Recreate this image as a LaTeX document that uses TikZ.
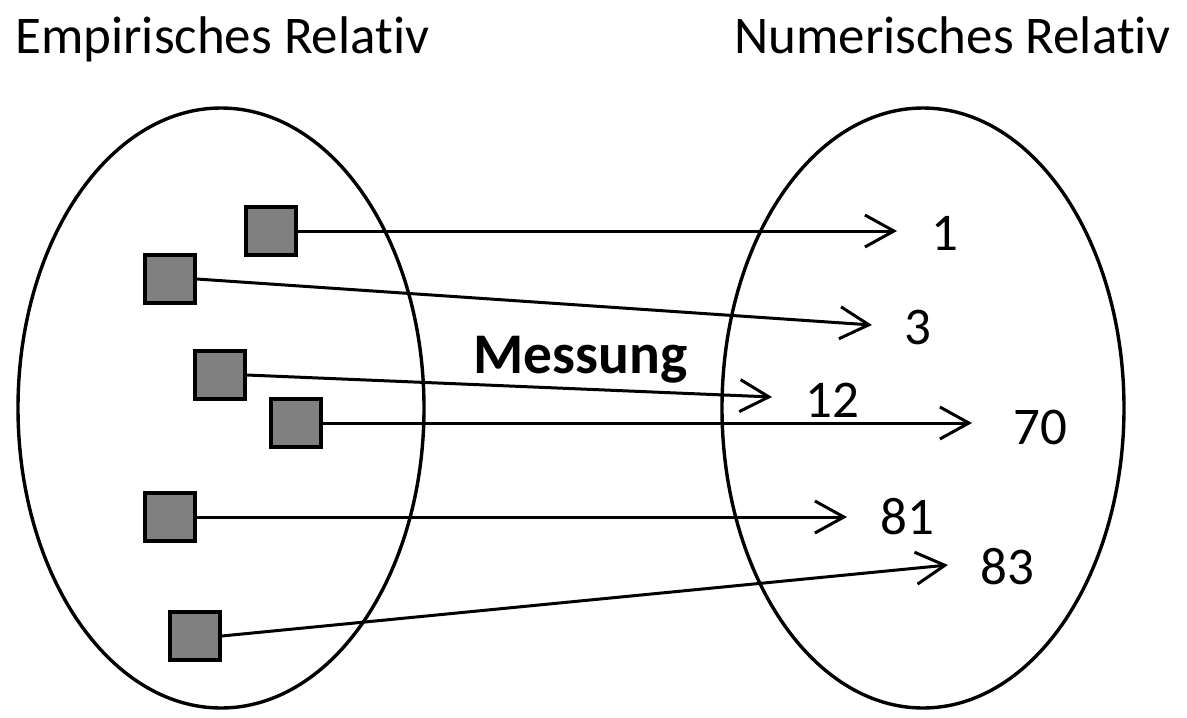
\documentclass[tikz,border=0pt]{standalone}
\usepackage{fontspec}
\setmainfont{Carlito}[Ligatures=NoCommon]
\usetikzlibrary{arrows.meta}
\begin{document}
\begin{tikzpicture}[x=1pt,y=-1pt,
  setline/.style={line width=3.4pt},
  elem/.style={draw=black,line width=3.4pt,fill=black!50,minimum width=50pt,minimum height=48pt,inner sep=0pt},
  maparrow/.style={line width=3pt,-{Straight Barb[length=29pt,width=32pt,line width=3pt]}},
  numlabel/.style={font=\fontsize{53}{60}\selectfont,inner sep=0pt,anchor=center},
  title/.style={font=\fontsize{53}{60}\selectfont,inner sep=0pt,anchor=base west}]
\useasboundingbox (0,0) rectangle (1187,718);
% sets
\draw[setline] (221,408) ellipse [x radius=203, y radius=300];
\draw[setline] (923,408) ellipse [x radius=201, y radius=300];
% titles
\node[title] (tl) at (15,53) {Empirisches Relativ};
\node[title] (tr) at (734,53) {Numerisches Relativ};
\node[font=\bfseries\fontsize{57.5}{66}\selectfont,inner sep=0pt,anchor=base west] (mess) at (473,373) {Messung};
% elements
\node[elem] (s1) at (271,231) {};
\node[elem] (s2) at (170,279) {};
\node[elem] (s3) at (220,375) {};
\node[elem] (s4) at (296,423) {};
\node[elem] (s5) at (170,517) {};
\node[elem] (s6) at (195,636) {};
% numbers
\node[numlabel] (n1) at (945,233) {1};
\node[numlabel] (n3) at (918,327) {3};
\node[numlabel] (n12) at (832,400) {12};
\node[numlabel] (n70) at (1040,427) {70};
\node[numlabel] (n81) at (907,517) {81};
\node[numlabel] (n83) at (1007,567) {83};
% arrow tips
\coordinate (t1) at (897,231);
\coordinate (t3) at (872,325);
\coordinate (t12) at (772,397);
\coordinate (t70) at (972,423);
\coordinate (t81) at (847,517);
\coordinate (t83) at (948,565);
% mapping
\draw[maparrow] (s1.east) -- (t1);
\draw[maparrow] (s2.east) -- (t3);
\draw[maparrow] (s3.east) -- (t12);
\draw[maparrow] (s4.east) -- (t70);
\draw[maparrow] (s5.east) -- (t81);
\draw[maparrow] (s6.east) -- (t83);
\end{tikzpicture}
\end{document}
